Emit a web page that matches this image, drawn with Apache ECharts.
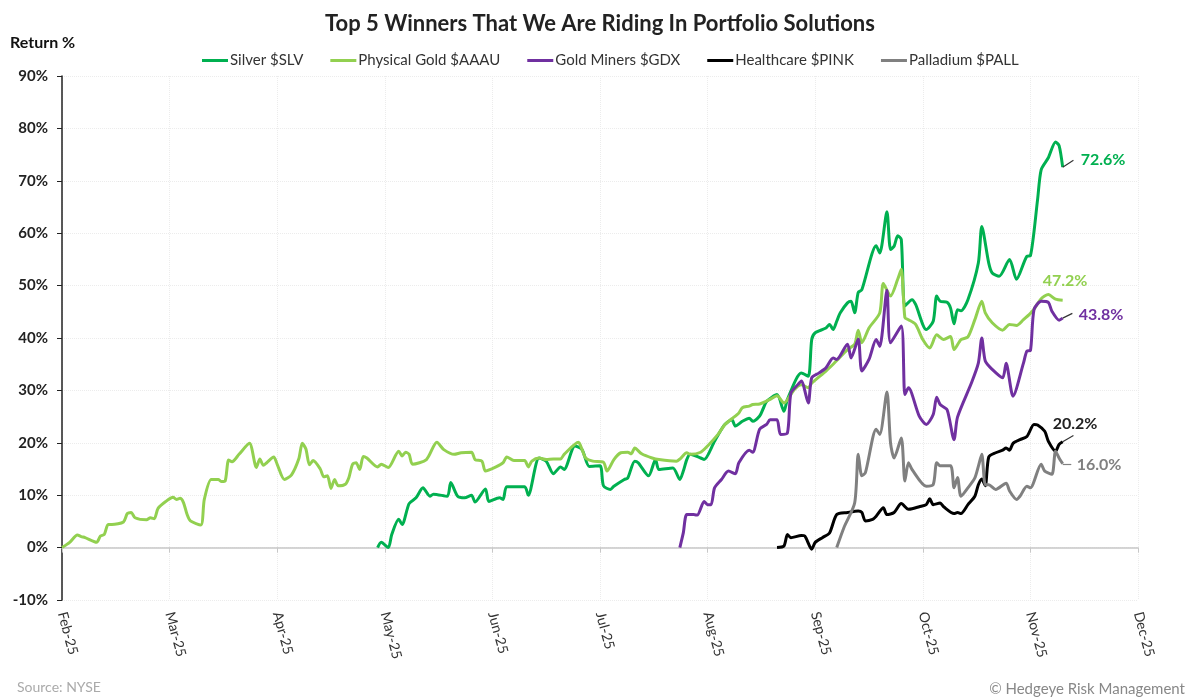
<!DOCTYPE html>
<html><head><meta charset="utf-8">
<script src="https://cdn.jsdelivr.net/npm/echarts@6/dist/echarts.min.js"></script>
<style>html,body{margin:0;padding:0;background:#fff}#c{width:1200px;height:698px}</style>
</head><body><div id="c"></div>
<script>
const monthLabels = ['Feb-25','Mar-25','Apr-25','May-25','Jun-25','Jul-25','Aug-25','Sep-25','Oct-25','Nov-25','Dec-25'];
const yTicks = [-10,0,10,20,30,40,50,60,70,80,90];
const seriesNames = ['Silver $SLV','Physical Gold $AAAU','Gold Miners $GDX','Healthcare $PINK','Palladium $PALL'];
const seriesColors = ['#00B050','#92D050','#7030A0','#000000','#808080'];

const goldDates = ['02-01','02-03','02-05','02-06','02-07','02-10','02-11','02-12','02-13','02-14','02-17','02-18','02-19','02-20','02-23','02-24','02-25','02-26','02-28',
'03-02','03-03','03-04','03-05','03-06','03-07','03-10','03-11','03-13','03-15','03-16','03-17','03-18','03-19','03-21','03-24','03-26','03-27','03-28','03-29','03-31',
'04-01','04-03','04-05','04-07','04-08','04-09','04-10','04-11','04-13','04-14','04-15','04-16','04-17','04-18','04-20','04-21','04-22','04-23','04-24','04-25','04-26','04-29','04-30',
'05-02','05-05','05-06','05-07','05-08','05-09','05-13','05-16','05-18','05-21','05-23','05-26','05-27','05-29','05-30',
'06-02','06-04','06-05','06-07','06-10','06-11','06-12','06-14','06-16','06-18','06-20','06-21','06-25','06-26','06-27','06-29',
'07-02','07-03','07-05','07-07','07-09','07-10','07-11','07-13','07-16','07-18','07-23','07-24','07-26','07-27','07-30',
'08-01','08-04','08-06','08-08','08-10','08-11','08-13','08-14','08-16','08-19','08-21','08-23','08-26','08-28','08-30','08-31',
'09-04','09-06','09-07','09-10','09-12','09-13','09-14','09-16','09-19','09-20','09-22','09-24','09-25','09-26','09-27','09-29',
'10-01','10-03','10-05','10-07','10-09','10-10','10-12','10-14','10-16','10-18','10-19','10-21','10-24','10-26','10-28','10-30',
'11-01','11-02','11-04','11-06','11-08','11-10'];
const goldValues = [0,1.0,2.4,2.1,1.9,1.0,2.2,2.5,4.4,4.4,4.9,6.5,6.7,5.7,5.3,5.7,5.5,7.5,8.8,
9.6,9.2,9.4,8.6,6.4,5.1,4.3,9.2,13.0,13.0,12.6,12.7,16.7,16.4,17.8,19.9,15.3,16.9,15.7,16.2,17.3,
15.9,13.0,13.9,16.9,19.9,18.8,15.8,16.6,15.0,13.5,13.7,11.3,13.0,11.8,12.1,13.4,15.9,16.2,14.9,17.4,17.1,15.4,15.9,
15.3,18.4,17.5,18.2,17.8,15.9,16.8,20.1,18.7,17.8,18.1,18.2,16.8,16.5,14.6,
15.4,16.2,17.3,16.6,16.6,15.4,16.5,17.1,16.8,16.9,16.9,17.8,20.1,18.7,17.1,16.5,
16.3,14.6,16.8,18.1,18.2,17.9,19.0,17.9,17.1,16.8,16.5,16.9,18.1,17.8,18.2,
19.4,21.6,23.5,24.6,25.7,26.7,27.0,27.3,27.4,28.3,29.0,27.6,30.2,31.1,30.5,31.4,
33.7,35.0,35.7,37.8,38.8,41.5,39.1,41.9,44.8,50.4,48.0,51.2,53.1,43.9,43.5,42.6,
39.7,38.1,40.6,39.7,40.3,37.8,39.7,40.2,43.5,47.0,44.8,42.9,41.5,42.6,42.4,43.5,
44.7,45.5,47.5,48.3,47.4,47.2];

const silverDates = ['04-29','04-30','05-02','05-03','05-05','05-06','05-08','05-10','05-12','05-14','05-15','05-19','05-20','05-22','05-24','05-26','05-27','05-30','05-31',
'06-03','06-04','06-05','06-10','06-11','06-14','06-16','06-18','06-20','06-21','06-24','06-26','06-28',
'07-01','07-02','07-04','07-05','07-08','07-09','07-11','07-12','07-15','07-17','07-18','07-22','07-24','07-25','07-26','07-27','07-30','07-31',
'08-03','08-05','08-06','08-08','08-09','08-11','08-13','08-14','08-16','08-17','08-18','08-21','08-23','08-24','08-28','08-30','08-31',
'09-01','09-04','09-05','09-06','09-07','09-08','09-10','09-11','09-12','09-13','09-14','09-18','09-19','09-21','09-22','09-23','09-24','09-25','09-26','09-28','09-29',
'10-02','10-04','10-05','10-06','10-08','10-09','10-10','10-11','10-12','10-14','10-17','10-18','10-20','10-21','10-23','10-26','10-28','10-31',
'11-01','11-03','11-04','11-06','11-08','11-09','11-10'];
const silverValues = [0,1.0,0,2.5,5.4,4.4,8.4,9.5,11.4,9.8,10.2,9.8,12.4,9.8,9.5,10.0,8.7,11.2,8.8,
9.5,9.2,11.6,11.6,10.0,17.1,16.5,14.1,15.4,14.9,19.4,18.7,15.5,
15.6,11.8,11.1,11.7,13.0,13.3,16.5,16.2,13.7,16.8,14.9,15.2,13.0,14.6,16.8,17.8,17.1,16.8,
20.3,22.6,23.5,24.4,23.2,24.1,24.7,24.1,25.1,26.5,27.9,29.2,26.0,28.3,33.3,32.7,39.7,
41.0,41.9,42.6,41.6,43.2,44.8,46.7,47.0,44.8,48.7,49.2,57.6,56.2,64.1,56.9,57.5,59.5,58.8,46.1,47.3,46.4,
41.6,43.2,48.0,47.0,46.8,45.7,42.7,45.4,45.2,47.3,54.3,61.3,54.3,52.4,51.8,55.0,51.2,55.6,
55.7,66.4,72.1,74.4,77.4,76.7,72.6];

const minersDates = ['07-24','07-25','07-26','07-28','07-29','07-31',
'08-01','08-02','08-03','08-05','08-07','08-09','08-10','08-13','08-14','08-16','08-18','08-19','08-21','08-22','08-24','08-25','08-27','08-28','08-30','08-31',
'09-02','09-04','09-06','09-07','09-10','09-11','09-13','09-14','09-16','09-18','09-19','09-21','09-22','09-25','09-26','09-27','09-30',
'10-02','10-04','10-05','10-06','10-08','10-10','10-11','10-15','10-17','10-18','10-19','10-21','10-24','10-25','10-27','10-30','10-31',
'11-01','11-02','11-04','11-06','11-07','11-09','11-10'];
const minersValues = [0,2.8,6.3,6.3,6.2,8.8,
8.2,8.2,11.4,13.0,14.6,14.1,16.2,18.6,18.2,22.6,23.5,24.4,24.4,21.6,21.9,29.5,31.1,31.8,27.6,32.4,
33.3,34.3,36.2,35.9,38.8,36.2,39.8,33.7,35.9,39.7,38.4,49.1,39.1,42.3,29.2,30.5,25.1,
23.5,25.4,28.7,27.3,26.3,20.6,24.9,31.4,35.2,40.0,35.6,34.0,32.4,35.2,28.9,35.2,37.5,
37.6,45.4,47.0,46.8,45.1,43.4,43.8];

const healthDates = ['08-21','08-23','08-24','08-25','08-28','08-29','08-31',
'09-01','09-03','09-05','09-07','09-10','09-13','09-14','09-15','09-17','09-18','09-20','09-21','09-23','09-25','09-27','09-28','09-30',
'10-02','10-03','10-04','10-06','10-07','10-10','10-11','10-12','10-14','10-16','10-17','10-18','10-19','10-20','10-22','10-24','10-25','10-26','10-27','10-29','10-31',
'11-02','11-03','11-05','11-06','11-08','11-09','11-10'];
const healthValues = [0,0.3,2.5,1.9,2.3,2.2,-0.3,
1.0,1.9,2.8,6.3,6.7,7.0,6.7,5.1,5.4,6.0,7.6,6.3,6.7,8.4,7.3,7.4,7.8,
8.2,9.3,8.2,8.5,7.8,6.5,6.7,6.5,8.2,9.8,12.0,13.1,11.8,17.3,18.1,18.6,19.0,18.6,19.9,20.6,21.2,
23.5,23.4,22.2,20.3,18.4,19.7,20.2];

const pallDates = ['09-07','09-09','09-12','09-13','09-14','09-15','09-18','09-19','09-21','09-22','09-23','09-25','09-26','09-27','09-28',
'10-02','10-04','10-05','10-06','10-09','10-10','10-11','10-12','10-14','10-16','10-17','10-18','10-19','10-20','10-22','10-25','10-26','10-28','10-29','10-31',
'11-01','11-04','11-05','11-07','11-08','11-09','11-10'];
const pallValues = [0,3.8,8.5,17.8,13.7,14.3,22.6,21.6,29.7,20.0,17.1,20.9,12.7,16.2,14.9,
11.7,12.0,16.2,15.6,15.6,11.4,13.4,9.8,11.4,13.3,15.5,17.8,12.0,12.0,11.1,12.3,10.8,9.2,9.8,11.7,
11.4,15.9,14.6,14.0,18.4,17.1,16.0];

const daysInMonth = [31,28,31,30,31,30,31,31,30,31,30,31];
function monthPos(md){ const p = md.split('-').map(Number); return (p[0]-2) + (p[1]-1)/daysInMonth[p[0]-1]; }
function pairs(dates, vals){ return dates.map((d,i)=>[monthPos(d), vals[i]]); }

const allData = [pairs(silverDates,silverValues), pairs(goldDates,goldValues), pairs(minersDates,minersValues), pairs(healthDates,healthValues), pairs(pallDates,pallValues)];
// end label placement (pixel offsets) and leader lines (in data units)
const labelOffsets = [[10,-7],[-28,-19],[8,-3],[-18,-18],[6,1]];
const leaders = [[0.1,1.3],null,[0.09,0.9],[0.1,1.2],[0.08,0]];
const leaderColors = ['#333','#333','#333','#333','#808080'];

const FONT = 'Lato, "Noto Sans", sans-serif';
const series = allData.map((data,i)=>{
  const last = data[data.length-1];
  const s = {
    name: seriesNames[i], type:'line', data, showSymbol:false, smooth:0.25,
    lineStyle:{width:3, color:seriesColors[i]}, itemStyle:{color:seriesColors[i]},
    z: 2+i,
    endLabel:{show:true, formatter:p=>p.value[1].toFixed(1)+'%', offset:labelOffsets[i],
      color: i===3 ? '#222' : seriesColors[i], fontSize:16, fontWeight:'bold', fontFamily:FONT},
    emphasis:{disabled:true}
  };
  if (leaders[i]) {
    s.markLine = {silent:true, symbol:['none','none'], animation:false, label:{show:false},
      lineStyle:{color:leaderColors[i], width:1.2, type:'solid'},
      data:[[{coord:[last[0], last[1]]},{coord:[last[0]+leaders[i][0], last[1]+leaders[i][1]]}]]};
  }
  return s;
});

const chart = echarts.init(document.getElementById('c'));
chart.setOption({
  animation:false,
  backgroundColor:'#fff',
  textStyle:{fontFamily:FONT},
  title:[
    {text:'Top 5 Winners That We Are Riding In Portfolio Solutions', left:'center', top:8,
      textStyle:{fontSize:22, fontWeight:'bold', color:'#222', fontFamily:FONT}},
    {text:'Return %', left:5, top:30, textStyle:{fontSize:16, fontWeight:'bold', color:'#111', fontFamily:FONT}},
    {text:'Source: NYSE', left:12, top:675, textStyle:{fontSize:14, fontWeight:'normal', color:'#aaa', fontFamily:FONT}},
    {text:'© Hedgeye Risk Management', right:10, top:677, textStyle:{fontSize:15, fontWeight:'normal', color:'#888', fontFamily:FONT}}
  ],
  legend:{left:197, top:48, data:seriesNames, icon:'rect', itemWidth:26, itemHeight:3, itemGap:27,
    textStyle:{fontSize:15, color:'#333', fontFamily:FONT, padding:[0,0,0,-3]}},
  grid:{left:62, right:62, top:76, bottom:98, containLabel:false, outerBoundsMode:'none'},
  xAxis:{type:'value', min:0, max:monthLabels.length-1, interval:1,
    axisLine:{show:true, onZero:true, lineStyle:{color:'#c8c8c8', width:1.5}},
    axisTick:{show:true, length:5, lineStyle:{color:'#c8c8c8'}},
    axisLabel:{rotate:-75, margin:12, fontSize:14, color:'#333', formatter:v=>monthLabels[Math.round(v)]},
    splitLine:{show:true, lineStyle:{color:'#ececec', type:'dotted'}}},
  yAxis:{type:'value', min:yTicks[0], max:yTicks[yTicks.length-1], interval:10,
    axisLine:{show:true, lineStyle:{color:'#222', width:1.5}},
    axisTick:{show:true, length:5, lineStyle:{color:'#222'}},
    axisLabel:{fontSize:15, fontWeight:'bold', color:'#222', margin:14, formatter:v=>v+'%'},
    splitLine:{show:true, lineStyle:{color:'#ececec', type:'dotted'}}},
  series
});
</script></body></html>
